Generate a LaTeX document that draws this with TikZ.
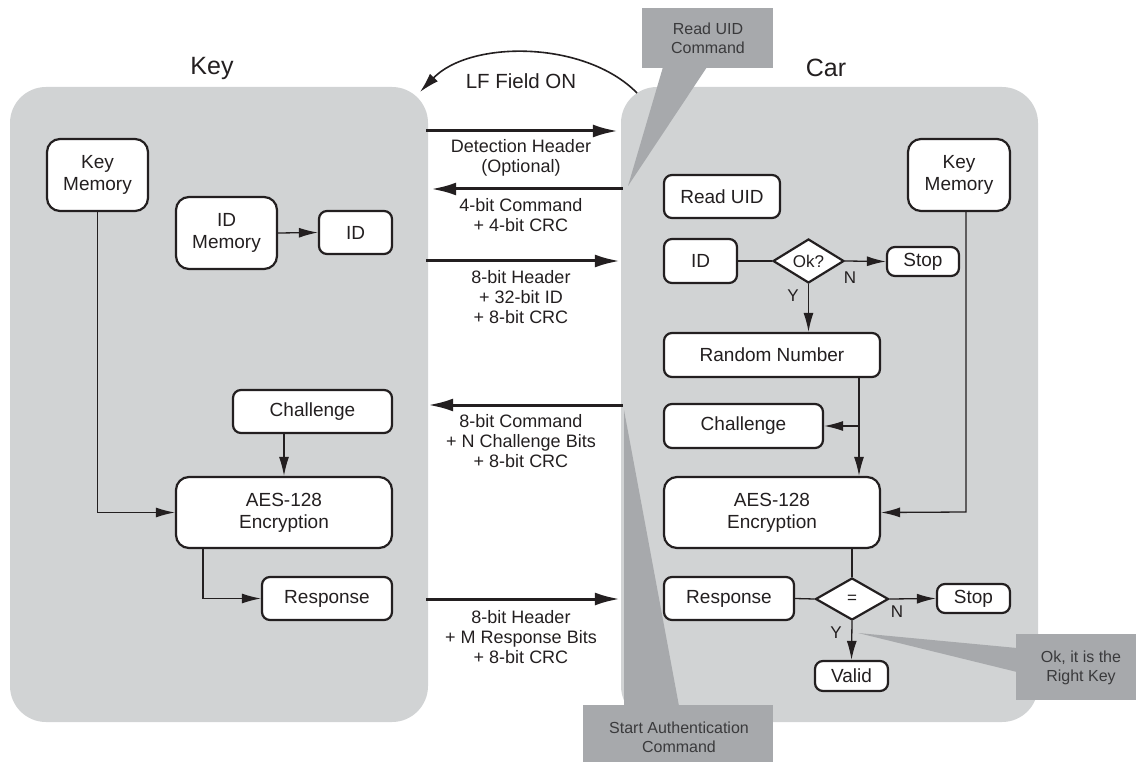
\documentclass[tikz,border=0pt]{standalone}
\usepackage{fontspec}
\setmainfont{Liberation Sans}
\usetikzlibrary{shapes.geometric,arrows.meta,calc}
\definecolor{panel}{HTML}{D1D3D4}
\definecolor{call}{HTML}{A7A9AC}
\definecolor{ink}{HTML}{231F20}
\definecolor{calltext}{HTML}{3A3A3C}
\begin{document}
\begin{tikzpicture}[x=1pt,y=-1pt,
  text=ink,
  box/.style={draw=ink, line width=2.2pt, rounded corners=8pt, fill=white, align=center, inner sep=0pt, font=\fontsize{19}{22}\selectfont},
  bigbox/.style={box, rounded corners=13pt},
  conn/.style={draw=ink, line width=1.3pt},
  arr/.style={conn, -{Latex[length=19pt,width=10pt]}},
  bigarr/.style={draw=ink, line width=3pt, -{Latex[length=25pt,width=13pt]}},
  lbl/.style={align=center, font=\fontsize{18}{20}\selectfont},
  yn/.style={font=\fontsize{17}{20}\selectfont},
  title/.style={font=\fontsize{25}{28}\selectfont},
  ctext/.style={align=center, text=calltext, font=\fontsize{16}{19}\selectfont},
  dia/.style={diamond, draw=ink, line width=2.2pt, fill=white, inner sep=0pt, font=\fontsize{17}{20}\selectfont},
  panelbox/.style={fill=panel, rounded corners=36pt, inner sep=0pt}]
\useasboundingbox (0,0) rectangle (1136,762);

% panels
\node[panelbox, minimum width=418pt, minimum height=635pt] (keyp) at (219,404.5) {};
\node[panelbox, minimum width=417pt, minimum height=635pt] (carp) at (829.5,404.5) {};

% titles
\node[title] (tkey) at (212,68) {Key};
\node[title] (tcar) at (826,68) {Car};

% callouts
\fill[call] (642,8) rectangle (773,68);
\fill[call] (663,67) -- (628,186) -- (707,67) -- cycle;
\node[ctext] (c1) at (708,38) {Read UID\\Command};

\fill[call] (583,705) rectangle (773,762);
\fill[call] (624,706) -- (624,410) -- (679,706) -- cycle;
\node[ctext] (c2) at (679,737) {Start Authentication\\Command};

\fill[call] (1016,634) rectangle (1136,700);
\fill[call] (1017,648) -- (858,633) -- (1017,672) -- cycle;
\node[ctext] (c3) at (1081,668) {Ok, it is the\\Right Key};

% LF field curve
\coordinate (lfs) at (637,93);
\coordinate (lfe) at (420,92);
\draw[draw=ink, line width=1.6pt, -{Latex[length=20pt,width=11pt]}] (lfs) .. controls (585,40) and (470,40) .. (lfe);
\node[font=\fontsize{20.5}{24}\selectfont] (lf) at (521,81) {LF Field ON};

% arrows between panels
\coordinate (y1) at (0,131);
\coordinate (y2) at (0,189);
\coordinate (y3) at (0,261);
\coordinate (y4) at (0,405);
\coordinate (y5) at (0,599);
\draw[bigarr] ([xshift=-2pt]keyp.east |- y1) -- ([xshift=-3pt]carp.west |- y1);
\draw[bigarr] ([xshift=2pt]carp.west |- y2) -- ([xshift=3pt]keyp.east |- y2);
\draw[bigarr] ([xshift=-2pt]keyp.east |- y3) -- ([xshift=-1pt]carp.west |- y3);
\draw[bigarr] ([xshift=2pt]carp.west |- y4) -- ([xshift=0pt]keyp.east |- y4);
\draw[bigarr] ([xshift=-2pt]keyp.east |- y5) -- ([xshift=-1pt]carp.west |- y5);

\node[lbl] (l1) at (521,158) {Detection Header\\(Optional)};
\node[lbl] (l2) at (521,215) {4-bit Command\\+ 4-bit CRC};
\node[lbl] (l3) at (521,297) {8-bit Header\\+ 32-bit ID\\+ 8-bit CRC};
\node[lbl] (l4) at (521,441) {8-bit Command\\+ N Challenge Bits\\+ 8-bit CRC};
\node[lbl] (l5) at (521,637) {8-bit Header\\+ M Response Bits\\+ 8-bit CRC};

% Key side
\node[bigbox, minimum width=101pt, minimum height=72pt] (km1) at (97.5,175) {Key\\Memory};
\node[bigbox, minimum width=101pt, minimum height=72pt] (idm) at (226.5,233) {ID\\Memory};
\node[box, minimum width=73pt, minimum height=43pt] (id1) at (355.5,232.5) {ID};
\node[box, minimum width=159pt, minimum height=43pt] (ch1) at (312.5,411.5) {Challenge};
\node[bigbox, minimum width=216pt, minimum height=71pt] (aes1) at (284,512.5) {AES-128\\Encryption};
\node[box, minimum width=130pt, minimum height=43pt] (resp1) at (327,598.5) {Response};

\draw[arr] (idm.east) -- (id1.west);
\draw[arr] (km1.south) |- (aes1.west);
\draw[arr] (aes1.north |- ch1.south) -- (aes1.north);
\draw[arr] ([xshift=28pt]aes1.south west) |- (resp1.west);

% Car side
\node[box, minimum width=116pt, minimum height=43pt] (rd) at (722,196.5) {Read UID};
\node[box, minimum width=73pt, minimum height=44pt] (id2) at (700.5,261) {ID};
\node[dia, minimum width=71pt, minimum height=44pt] (ok) at (808.5,261) {Ok?};
\node[box, minimum width=72pt, minimum height=29pt] (st1) at (923,261.5) {Stop};
\node[bigbox, minimum width=102pt, minimum height=72pt] (km2) at (959,175) {Key\\Memory};
\node[box, minimum width=216pt, minimum height=44pt] (rn) at (772,355) {Random Number};
\node[box, minimum width=159pt, minimum height=44pt] (ch2) at (743.5,426) {Challenge};
\node[bigbox, minimum width=216pt, minimum height=71pt] (aes2) at (772,512.5) {AES-128\\Encryption};
\node[box, minimum width=130pt, minimum height=43pt] (resp2) at (729,598.5) {Response};
\node[dia, minimum width=73pt, minimum height=42pt] (eq) at (852,599) {=};
\node[box, minimum width=73pt, minimum height=29pt] (st2) at (973.5,598.5) {Stop};
\node[box, minimum width=73pt, minimum height=30pt] (val) at (851.5,676) {Valid};

\coordinate (j1) at (859,426);
\coordinate (j2) at (966,512);

\draw[conn] (id2.east) -- (ok.west);
\draw[arr] (ok.east) -- (st1.west);
\draw[arr] (ok.south) -- (ok.south |- rn.north);
\node[yn] (n1) at (850,278) {N};
\node[yn] (y1l) at (793,296) {Y};

\draw[arr] (j1 |- rn.south) -- (j1 |- aes2.north);
\draw[arr] (j1) -- (ch2.east);
\draw[arr] (j2 |- km2.south) -- (j2) -- (aes2.east);

\draw[conn] (eq.north |- aes2.south) -- (eq.north);
\draw[conn] (resp2.east) -- (eq.west);
\draw[arr] (eq.east) -- (st2.west);
\draw[arr] (eq.south) -- (val.north);
\node[yn] (n2) at (897,612) {N};
\node[yn] (y2l) at (836,633) {Y};
\end{tikzpicture}
\end{document}
